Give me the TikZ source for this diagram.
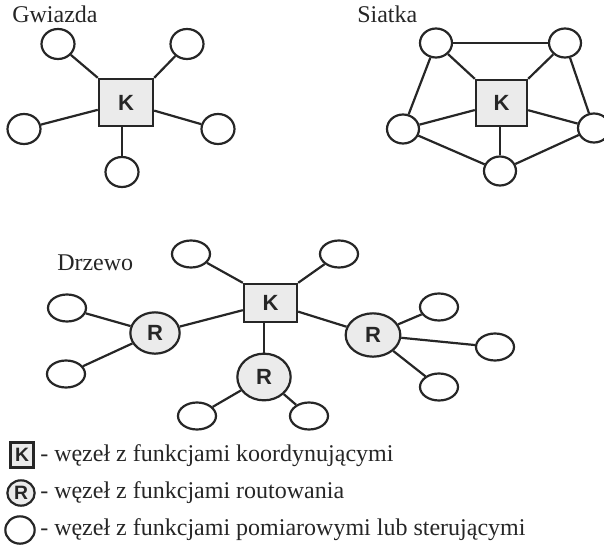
\documentclass[tikz,border=0pt]{standalone}
\usepackage{fontspec}
\setmainfont{Liberation Serif}
\newfontfamily\letterfont{Liberation Sans}
\usetikzlibrary{shapes.geometric}
\definecolor{ink}{HTML}{262626}
\definecolor{nodefill}{HTML}{EBEBEB}
\tikzset{
  link/.style={draw=ink, line width=1.65pt},
  leaf/.style={ellipse, draw=ink, line width=1.65pt, fill=white, inner sep=0pt},
  kbox/.style={rectangle, draw=ink, line width=1.8pt, fill=nodefill, inner sep=0pt,
    font=\letterfont\bfseries\fontsize{16.5}{16.5}\selectfont, text=ink},
  rnode/.style={ellipse, draw=ink, line width=1.65pt, fill=nodefill, inner sep=0pt,
    font=\letterfont\bfseries\fontsize{16.5}{16.5}\selectfont, text=ink},
  title/.style={anchor=base west, inner sep=0pt, text=ink,
    font=\fontsize{18}{20}\selectfont},
}
\begin{document}
\begin{tikzpicture}[x=0.75pt, y=-0.75pt]
\useasboundingbox (0,0) rectangle (604,546);

% ---------- star ----------
\node[title] (tstar) at (12,22) {Gwiazda};
\node[kbox, minimum width=40.5pt, minimum height=35.25pt] (sk) at (126,102.5) {K};
\tikzset{sl/.style={leaf, minimum width=24.75pt, minimum height=22.5pt}}
\node[sl] (s1) at (58,44) {};
\node[sl] (s2) at (187,44) {};
\node[sl] (s3) at (24,129) {};
\node[sl] (s4) at (218,129) {};
\node[sl] (s5) at (122,172) {};
\draw[link] (s1) -- (sk.north west);
\draw[link] (s2) -- (sk.north east);
\draw[link] (s3) -- (sk);
\draw[link] (s4) -- (sk);
\draw[link] (s5.north) -- (s5.north |- sk.south);

% ---------- mesh ----------
\node[title] (tmesh) at (357,22) {Siatka};
\node[kbox, minimum width=38.25pt, minimum height=34.5pt] (mk) at (501.5,103) {K};
\tikzset{ml/.style={leaf, minimum width=24pt, minimum height=21.75pt}}
\node[ml] (m1) at (436,43) {};
\node[ml] (m2) at (565,43) {};
\node[ml] (m3) at (403,129) {};
\node[ml] (m4) at (594,128) {};
\node[ml] (m5) at (500,171) {};
\draw[link] (m1) -- (m2);
\draw[link] (m1) -- (mk.north west);
\draw[link] (m2) -- (mk.north east);
\draw[link] (m1) -- (m3);
\draw[link] (m2) -- (m4);
\draw[link] (m3) -- (mk);
\draw[link] (m4) -- (mk);
\draw[link] (m3) -- (m5);
\draw[link] (m4) -- (m5);
\draw[link] (m5.north) -- (m5.north |- mk.south);

% ---------- tree ----------
\node[title] (ttree) at (57,270) {Drzewo};
\tikzset{tl/.style={leaf, minimum width=28.5pt, minimum height=20.25pt}}
\node[kbox, minimum width=39.75pt, minimum height=28.5pt] (tk) at (270.5,303) {K};
\node[rnode, minimum width=37pt, minimum height=31pt] (ra) at (155,333) {R};
\node[rnode, minimum width=40pt, minimum height=35pt] (rb) at (264,377) {R};
\node[rnode, minimum width=41pt, minimum height=32.5pt] (rc) at (373,335) {R};
\node[tl] (t1) at (191,254) {};
\node[tl] (t2) at (339,254) {};
\node[tl] (a1) at (67,308) {};
\node[tl] (a2) at (66,374) {};
\node[tl] (b1) at (197,416) {};
\node[tl] (b2) at (309,416) {};
\node[tl] (c1) at (439,307) {};
\node[tl] (c2) at (495,347) {};
\node[tl] (c3) at (439,387) {};
\draw[link] (t1) -- (tk.north west);
\draw[link] (t2) -- (tk.north east);
\draw[link] (ra) -- (tk);
\draw[link] (rc) -- (tk);
\draw[link] (rb.north) -- (rb.north |- tk.south);
\draw[link] (a1) -- (ra);
\draw[link] (a2) -- (ra);
\draw[link] (b1) -- (rb);
\draw[link] (b2) -- (rb);
\draw[link] (c1) -- (rc);
\draw[link] (c2) -- (rc);
\draw[link] (c3) -- (rc);

% ---------- legend ----------
\node[kbox, minimum width=17.5pt, minimum height=18.5pt,
  font=\letterfont\bfseries\fontsize{14.5}{14.5}\selectfont] (lk) at (22,455) {K};
\node[rnode, minimum width=20.5pt, minimum height=19pt,
  font=\letterfont\bfseries\fontsize{14.5}{14.5}\selectfont] (lr) at (21,493) {R};
\node[leaf, minimum width=22pt, minimum height=20.5pt] (ll) at (20,530) {};
\node[title] (lkt) at (40,461) {- węzeł z funkcjami koordynującymi};
\node[title] (lrt) at (40,498) {- węzeł z funkcjami routowania};
\node[title] (llt) at (40,535) {- węzeł z funkcjami pomiarowymi lub sterującymi};
\end{tikzpicture}
\end{document}
